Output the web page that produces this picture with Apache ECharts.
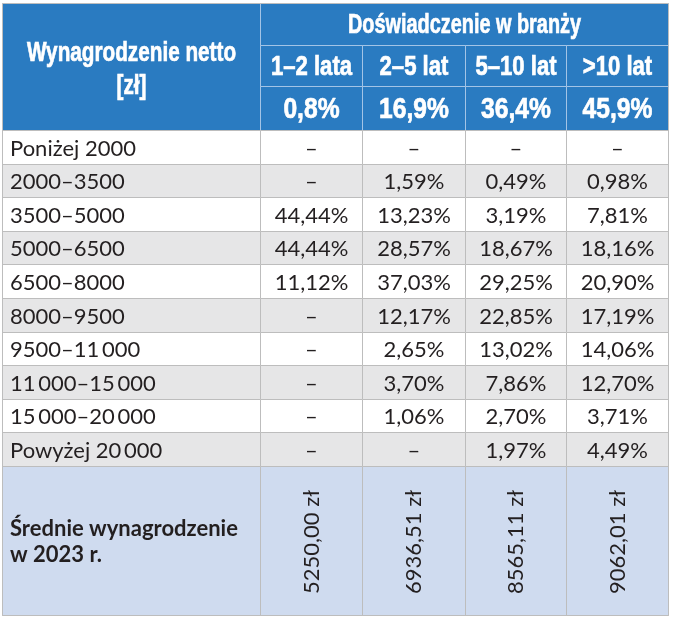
<!DOCTYPE html>
<html><head><meta charset="utf-8">
<script src="https://cdn.jsdelivr.net/npm/echarts@6/dist/echarts.min.js"></script>
<style>html,body{margin:0;padding:0;background:#fff}#c{width:676px;height:625px}</style>
</head><body><div id="c"></div><script>
// ---- data ----
const rowHeaderTitle = 'Wynagrodzenie netto\n[zł]';
const groupTitle = 'Doświadczenie w branży';
const experienceGroups = ['1–2 lata', '2–5 lat', '5–10 lat', '>10 lat'];
const groupShares = [0.8, 16.9, 36.4, 45.9];
const salaryBands = ['Poniżej 2000', '2000–3500', '3500–5000', '5000–6500', '6500–8000', '8000–9500',
  '9500–11\u2009000', '11\u2009000–15\u2009000', '15\u2009000–20\u2009000', 'Powyżej 20\u2009000'];
const share1to2 = [null, null, 44.44, 44.44, 11.12, null, null, null, null, null];
const share2to5 = [null, 1.59, 13.23, 28.57, 37.03, 12.17, 2.65, 3.70, 1.06, null];
const share5to10 = [null, 0.49, 3.19, 18.67, 29.25, 22.85, 13.02, 7.86, 2.70, 1.97];
const shareOver10 = [null, 0.98, 7.81, 18.16, 20.90, 17.19, 14.06, 12.70, 3.71, 4.49];
const averageLabel = 'Średnie wynagrodzenie\nw 2023 r.';
const averageSalary = [5250.00, 6936.51, 8565.11, 9062.01];

// ---- layout ----
const colWidths = [258, 102, 103, 101, 102];
const headerRowHeights = [42, 41, 44];
const bodyRowHeight = 33.6;
const avgRowHeight = 149;
const colEdges = [0];
colWidths.forEach(w => colEdges.push(colEdges[colEdges.length - 1] + w));
const rowEdges = [0];
headerRowHeights.forEach(h => rowEdges.push(rowEdges[rowEdges.length - 1] + h));
salaryBands.forEach(() => rowEdges.push(rowEdges[rowEdges.length - 1] + bodyRowHeight));
rowEdges.push(rowEdges[rowEdges.length - 1] + avgRowHeight);
const totalW = colEdges[colEdges.length - 1];
const totalH = rowEdges[rowEdges.length - 1];

const BLUE = '#2a7bc1', HEAD_LINE = '#a3c4e6', BODY_LINE = '#bdbdbd', GRAY = '#e6e6e7', AVG = '#cfdbef', TXT = '#231f20';
const HEAD_FONT = '"Liberation Sans", Arial, sans-serif';
const BODY_FONT = 'Lato, "Noto Sans", sans-serif';

const fmt = (v, d) => v.toFixed(d).replace('.', ',');
const shareCols = [share1to2, share2to5, share5to10, shareOver10];

const cells = [];
function add(c0, c1, r0, r1, text, kind, extra) {
  cells.push(Object.assign({ c0, c1, r0, r1, text, kind }, extra || {}));
}
add(0, 1, 0, 3, rowHeaderTitle, 'head', { squeeze: 0.74, dy: 3, size: 28 });
add(1, 5, 0, 1, groupTitle, 'head', { squeeze: 0.71, size: 28 });
experienceGroups.forEach((g, i) => add(1 + i, 2 + i, 1, 2, g, 'head', { squeeze: 0.79, size: 28 }));
groupShares.forEach((s, i) => add(1 + i, 2 + i, 2, 3, fmt(s, 1) + '%', 'head', { squeeze: 0.85, size: 29 }));
salaryBands.forEach((b, j) => {
  const fill = j % 2 ? GRAY : '#ffffff';
  add(0, 1, 3 + j, 4 + j, b, 'body', { fill, left: true });
  shareCols.forEach((col, i) => {
    const v = col[j];
    add(1 + i, 2 + i, 3 + j, 4 + j, v == null ? '–' : fmt(v, 2) + '%', 'body', { fill });
  });
});
const avgRow = 3 + salaryBands.length;
add(0, 1, avgRow, avgRow + 1, averageLabel, 'avg', { left: true, bold: true });
averageSalary.forEach((v, i) => add(1 + i, 2 + i, avgRow, avgRow + 1, fmt(v, 2) + ' zł', 'avg', { rotate: true }));
add(0, 5, 0, avgRow + 1, '', 'outline');

const chart = echarts.init(document.getElementById('c'), null, { renderer: 'canvas' });
chart.setOption({
  animation: false,
  grid: { left: 2, top: 3, width: totalW, height: totalH },
  xAxis: { type: 'value', min: 0, max: totalW, show: false },
  yAxis: { type: 'value', min: 0, max: totalH, inverse: true, show: false },
  series: [{
    type: 'custom',
    silent: true,
    data: cells.map(c => [colEdges[c.c0], rowEdges[c.r0], colEdges[c.c1], rowEdges[c.r1]]),
    renderItem(params, api) {
      const cell = cells[params.dataIndex];
      const a = api.coord([api.value(0), api.value(1)]);
      const b = api.coord([api.value(2), api.value(3)]);
      const x0 = Math.round(a[0]) + 0.5, y0 = Math.round(a[1]) + 0.5;
      const x1 = Math.round(b[0]) + 0.5, y1 = Math.round(b[1]) + 0.5;
      if (cell.kind === 'outline') {
        return { type: 'rect', shape: { x: x0, y: y0, width: x1 - x0, height: y1 - y0 },
          style: { fill: null, stroke: BODY_LINE, lineWidth: 1 } };
      }
      let fill, stroke, textStyle;
      if (cell.kind === 'head') {
        fill = BLUE; stroke = HEAD_LINE;
        textStyle = { fill: '#ffffff', fontFamily: HEAD_FONT, fontWeight: 'bold', fontSize: cell.size, lineHeight: 33,
          stroke: '#ffffff', lineWidth: 0.7 };
      } else if (cell.kind === 'body') {
        fill = cell.fill; stroke = BODY_LINE;
        textStyle = { fill: TXT, fontFamily: BODY_FONT, fontWeight: 'normal', fontSize: 22 };
      } else {
        fill = AVG; stroke = BODY_LINE;
        textStyle = { fill: TXT, fontFamily: BODY_FONT, fontWeight: cell.bold ? 'bold' : 'normal', fontSize: 22, lineHeight: 26 };
      }
      const cx = (x0 + x1) / 2, cy = (y0 + y1) / 2;
      const tx = cell.left ? x0 + 7.5 : cx;
      return {
        type: 'group',
        children: [
          { type: 'rect', shape: { x: x0, y: y0, width: x1 - x0, height: y1 - y0 },
            style: { fill, stroke, lineWidth: 1 } },
          { type: 'text', x: tx, y: cy + (cell.dy || 1),
            rotation: cell.rotate ? Math.PI / 2 : 0,
            scaleX: cell.squeeze || 1,
            style: Object.assign({ text: cell.text, align: cell.left ? 'left' : 'center', verticalAlign: 'middle' }, textStyle) }
        ]
      };
    }
  }]
});
</script></body></html>
